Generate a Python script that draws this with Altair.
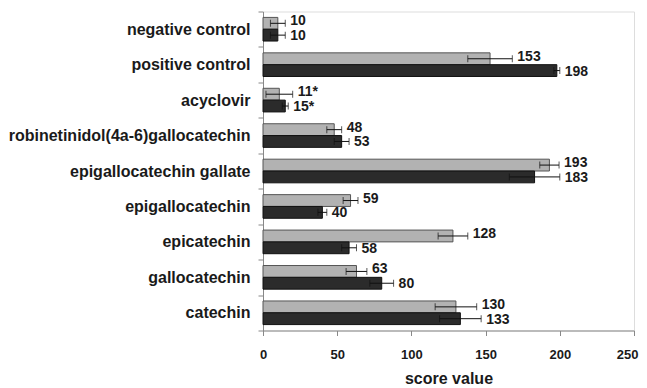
import altair as alt
import pandas as pd

categories = ["negative control", "positive control", "acyclovir",
              "robinetinidol(4a-6)gallocatechin", "epigallocatechin gallate",
              "epigallocatechin", "epicatechin", "gallocatechin", "catechin"]
gray_vals = [10, 153, 11, 48, 193, 59, 128, 63, 130]
gray_err = [5, 15, 9, 5, 6.5, 5, 10, 7, 14]
gray_labels = ["10", "153", "11*", "48", "193", "59", "128", "63", "130"]
dark_vals = [10, 198, 15, 53, 183, 40, 58, 80, 133]
dark_err = [5, 2, 2, 5, 17, 3, 5, 8, 14]
dark_labels = ["10", "198", "15*", "53", "183", "40", "58", "80", "133"]
x_ticks = [0, 50, 100, 150, 200, 250]

rows = []
for i, c in enumerate(categories):
    rows.append(dict(cat=c, series="a", value=gray_vals[i], err=gray_err[i], label=gray_labels[i]))
    rows.append(dict(cat=c, series="b", value=dark_vals[i], err=dark_err[i], label=dark_labels[i]))
df = pd.DataFrame(rows)
df["lo"] = df["value"] - df["err"]
df["hi"] = df["value"] + df["err"]

FONT = "Liberation Sans"
TXT = "#1a1a1a"

y = alt.Y("cat:N", sort=categories,
          scale=alt.Scale(paddingInner=0, paddingOuter=0),
          axis=alt.Axis(title=None, tickBand="extent", labelFontSize=16, labelFont=FONT,
                        labelFontWeight="bold", labelColor=TXT, tickSize=5,
                        labelPadding=8, domainColor="#888", tickColor="#888",
                        labelLimit=400))
yoff = alt.YOffset("series:N", scale=alt.Scale(paddingInner=0, paddingOuter=0.5))
xscale = alt.Scale(domain=[0, 250], nice=False)

base = alt.Chart(df)

bars = base.mark_bar(strokeWidth=1).encode(
    x=alt.X("value:Q", scale=xscale,
            axis=alt.Axis(title="score value", values=x_ticks, grid=False,
                          labelFontSize=13, labelFont=FONT, labelFontWeight="bold",
                          labelColor=TXT, titleFontSize=16, titleFont=FONT,
                          titleFontWeight="bold", titleColor=TXT, labelFlush=False,
                          labelAlign={"expr": "datum.value == 250 ? 'right' : 'center'"},
                          labelOffset={"expr": "datum.value == 250 ? 4 : 0"},
                          labelPadding=13, titlePadding=9, tickSize=5,
                          domainColor="#888", tickColor="#888")),
    y=y, yOffset=yoff,
    color=alt.Color("series:N", scale=alt.Scale(domain=["a", "b"], range=["#b2b2b2", "#2b2b2b"]), legend=None),
    stroke=alt.Stroke("series:N", scale=alt.Scale(domain=["a", "b"], range=["#555555", "#111111"]), legend=None),
)

rules = base.mark_rule(color="#111", strokeWidth=1).encode(
    x=alt.X("lo:Q", scale=xscale), x2="hi:Q", y=y, yOffset=yoff)
cap_lo = base.mark_tick(color="#111", orient="vertical", size=7, thickness=1).encode(
    x=alt.X("lo:Q", scale=xscale), y=y, yOffset=yoff)
cap_hi = base.mark_tick(color="#111", orient="vertical", size=7, thickness=1).encode(
    x=alt.X("hi:Q", scale=xscale), y=y, yOffset=yoff)
text_a = base.transform_filter(alt.datum.series == "a").mark_text(
    align="left", baseline="middle", dx=5, dy=-2, fontSize=14, font=FONT,
    fontWeight="bold", color=TXT).encode(
    x=alt.X("hi:Q", scale=xscale), y=y, yOffset=yoff, text="label:N")
text_b = base.transform_filter(alt.datum.series == "b").mark_text(
    align="left", baseline="middle", dx=5, dy=1, fontSize=14, font=FONT,
    fontWeight="bold", color=TXT).encode(
    x=alt.X("hi:Q", scale=xscale), y=y, yOffset=yoff, text="label:N")

chart = alt.layer(bars, rules, cap_lo, cap_hi, text_a, text_b).properties(
    width=371, height=319,
    padding={"top": 3.5, "left": 255, "right": 5, "bottom": 56},
    autosize=alt.AutoSizeParams(type="none"),
).configure_view(stroke=None).configure(background="white")

chart.save("out.html", embed_options={"renderer": "svg", "actions": False})
